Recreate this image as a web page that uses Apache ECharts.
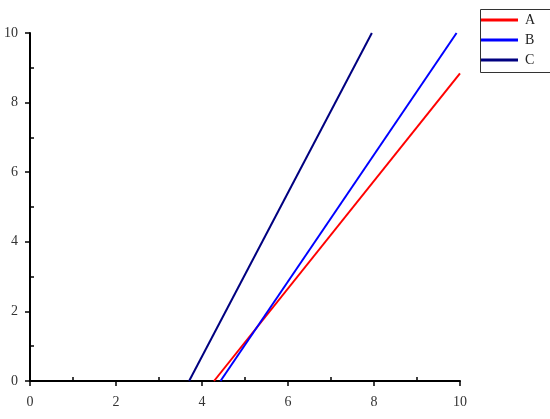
<!DOCTYPE html>
<html><head><meta charset="utf-8">
<script src="https://cdn.jsdelivr.net/npm/echarts@6/dist/echarts.min.js"></script>
<style>html,body{margin:0;padding:0;background:#fff;overflow:hidden}#c{width:550px;height:419px}</style>
</head><body><div id="c"></div>
<script>
const seriesNames = ['A', 'B', 'C'];
const seriesColors = ['#ff0000', '#0000ff', '#000080'];
const dataA = [[4.28, 0], [10, 8.84]];
const dataB = [[4.43, 0], [9.92, 10]];
const dataC = [[3.70, 0], [7.95, 10]];
const xTicks = [0, 2, 4, 6, 8, 10];
const yTicks = [0, 2, 4, 6, 8, 10];

const font = '"Liberation Serif", "DejaVu Serif", serif';
const chart = echarts.init(document.getElementById('c'));
const axisCommon = {
  min: 0, max: 10, interval: 2,
  axisLine: { show: true, onZero: false, lineStyle: { color: '#000', width: 2 } },
  axisTick: { show: true, inside: false, length: 5, lineStyle: { color: '#000', width: 1.5 } },
  minorTick: { show: true, splitNumber: 2, length: -4, lineStyle: { color: '#000', width: 1.5 } },
  splitLine: { show: false },
  axisLabel: { color: '#333', fontFamily: font, fontSize: 14 }
};
chart.setOption({
  animation: false,
  grid: { left: 30, top: 33, width: 430, height: 348, containLabel: false },
  xAxis: Object.assign({}, axisCommon, { type: 'value', axisLabel: Object.assign({}, axisCommon.axisLabel, { margin: 14, formatter: v => xTicks.includes(v) ? String(v) : '' }) }),
  yAxis: Object.assign({}, axisCommon, { type: 'value', axisLabel: Object.assign({}, axisCommon.axisLabel, { margin: 12, formatter: v => yTicks.includes(v) ? String(v) : '' }) }),
  graphic: [{
    type: 'rect', left: 478, top: 7, z: 0,
    shape: { width: 120, height: 63 },
    style: { fill: 'none', stroke: '#333', lineWidth: 1 }
  }],
  legend: {
    orient: 'vertical', left: 478, top: 7,
    padding: [6, 5, 4, 3], itemGap: 6,
    itemWidth: 37, itemHeight: 3, icon: 'rect',
    textStyle: { fontFamily: font, fontSize: 14, color: '#222', padding: [0, 0, 0, 2] },
    data: seriesNames
  },
  series: [dataA, dataB, dataC].map((d, i) => ({
    name: seriesNames[i], type: 'line', data: d, showSymbol: false, symbol: 'none',
    lineStyle: { color: seriesColors[i], width: 2 }, itemStyle: { color: seriesColors[i] }
  }))
});
</script></body></html>
